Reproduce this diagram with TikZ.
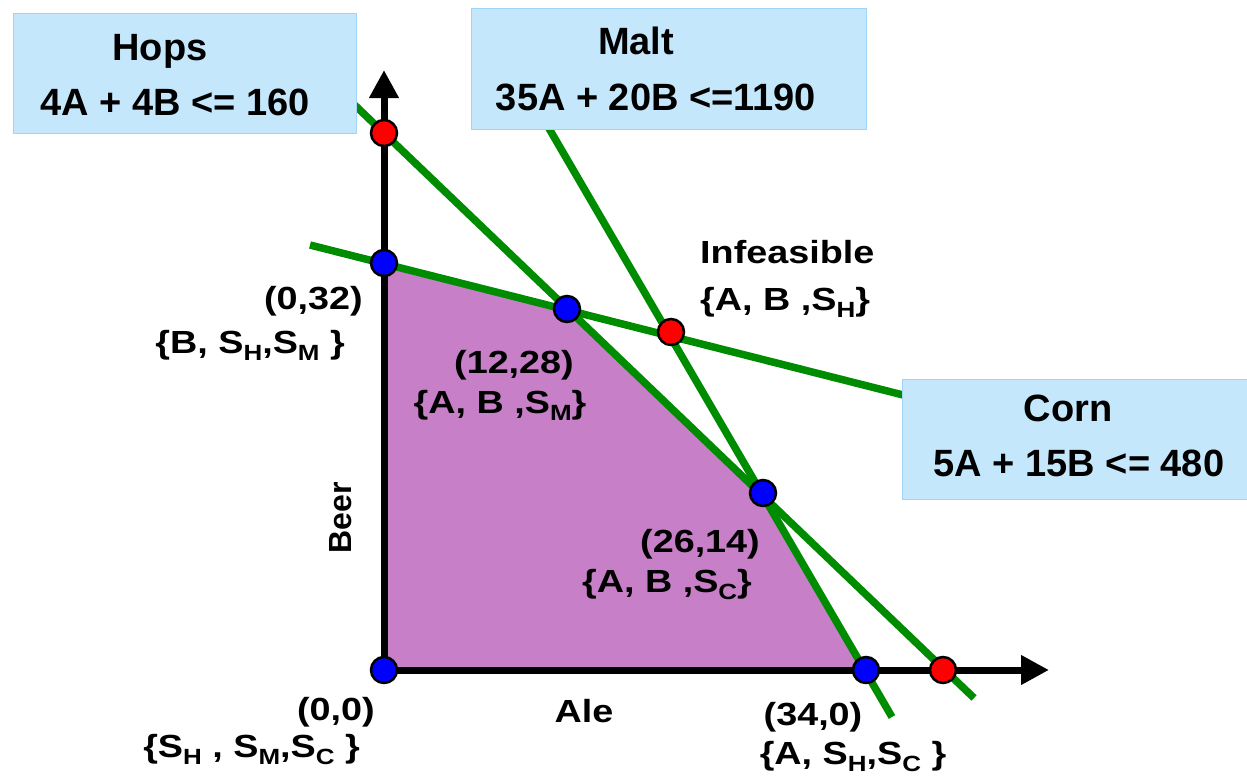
\documentclass[tikz,border=0pt]{standalone}
\usepackage{fontspec}
\setmainfont{Liberation Sans}
\newfontfamily\lblfont{Liberation Sans}[FakeStretch=1.18]
\usetikzlibrary{arrows.meta}
\definecolor{boxblue}{RGB}{197,231,252}
\definecolor{boxedge}{RGB}{160,213,247}
\definecolor{lgreen}{RGB}{0,140,0}
\definecolor{feas}{RGB}{199,127,199}
\newcommand{\lsub}[1]{\raisebox{-7pt}{\fontsize{22}{22}\selectfont #1}}
\tikzset{
  cbox/.style={fill=boxblue, draw=boxedge, line width=1pt, anchor=north west, inner sep=0},
  boxtxt/.style={font=\fontsize{38}{40}\selectfont\bfseries, inner sep=0, anchor=base},
  lbl/.style={font=\lblfont\fontsize{32}{34}\selectfont\bfseries, inner sep=0, anchor=base},
  cline/.style={lgreen, line width=7.5pt},
  axisline/.style={line width=7pt, -{Triangle[length=28pt,width=28pt]}},
  vtx/.style={circle, draw=black, line width=2.5pt, minimum size=26pt, inner sep=0, fill=blue},
  infvtx/.style={vtx, fill=red}
}
\begin{document}
\begin{tikzpicture}[x=1pt, y=-1pt]
\useasboundingbox (0,0) rectangle (1247,776);
% key points
\coordinate (O) at (384,670);
\coordinate (P032) at (384,263);
\coordinate (P1228) at (567,309);
\coordinate (P2614) at (763,493);
\coordinate (P340) at (866,670);
\coordinate (H0) at (384,133);
\coordinate (H1) at (943,670);
\coordinate (X) at (671,332);
\coordinate (xtip) at (1049,670);
\coordinate (ytip) at (384,70);
% line ends
\coordinate (hopsA) at (340,91);
\coordinate (hopsB) at (974,698);
\coordinate (maltA) at (540,113);
\coordinate (maltB) at (892,717);
\coordinate (cornA) at (310,245);
\coordinate (cornB) at (915,398);
% feasible region
\fill[feas] (O) -- (P032) -- (P1228) -- (P2614) -- (P340) -- cycle;
% constraint lines
\draw[cline] (hopsA) -- (hopsB);
\draw[cline] (maltA) -- (maltB);
\draw[cline] (cornA) -- (cornB);
% axes
\draw[axisline] (O) -- (xtip);
\draw[axisline] (O) -- (ytip);
% boxes
\node[cbox, minimum width=343pt, minimum height=120pt] (hopsbox) at (13,13) {};
\node[cbox, minimum width=395pt, minimum height=121pt] (maltbox) at (471,8) {};
\node[cbox, minimum width=346pt, minimum height=120pt] (cornbox) at (902,379) {};
\node[boxtxt] (hopst) at (160,60) {Hops};
\node[boxtxt] (hopse) at (175,115) {4A + 4B <= 160};
\node[boxtxt] (maltt) at (636,55) {Malt};
\node[boxtxt] (malte) at (656,110) {35A + 20B <=1190};
\node[boxtxt] (cornt) at (1068,421) {Corn};
\node[boxtxt] (corne) at (1079,476) {5A + 15B <= 480};
% vertices
\node[infvtx] (d1) at (H0) {};
\node[vtx] (d2) at (P032) {};
\node[vtx] (d3) at (P1228) {};
\node[infvtx] (d4) at (X) {};
\node[vtx] (d5) at (P2614) {};
\node[vtx] (d6) at (P340) {};
\node[infvtx] (d7) at (H1) {};
\node[vtx] (d8) at (O) {};
% labels
\node[lbl, anchor=base east] (l1a) at (363,309) {(0,32)};
\node[lbl, anchor=base east] (l1b) at (345,353) {\{B, S\lsub{H},S\lsub{M} \}};
\node[lbl] (l2a) at (514,373) {(12,28)};
\node[lbl] (l2b) at (500,413) {\{A, B ,S\lsub{M}\}};
\node[lbl, anchor=base west] (l3a) at (700,263) {Infeasible};
\node[lbl, anchor=base west] (l3b) at (700,310) {\{A, B ,S\lsub{H}\}};
\node[lbl] (l4a) at (700,552) {(26,14)};
\node[lbl] (l4b) at (667,592) {\{A, B ,S\lsub{C}\}};
\node[lbl, anchor=base east] (l5a) at (375,720) {(0,0)};
\node[lbl, anchor=base east] (l5b) at (360,757) {\{S\lsub{H} , S\lsub{M},S\lsub{C} \}};
\node[lbl] (l6a) at (813,725) {(34,0)};
\node[lbl] (l6b) at (853,764) {\{A, S\lsub{H},S\lsub{C} \}};
\node[lbl] (ale) at (584,722) {Ale};
\node[font=\fontsize{32}{34}\selectfont\bfseries, inner sep=0, rotate=90] (beer) at (341,518) {Beer};
\end{tikzpicture}
\end{document}
